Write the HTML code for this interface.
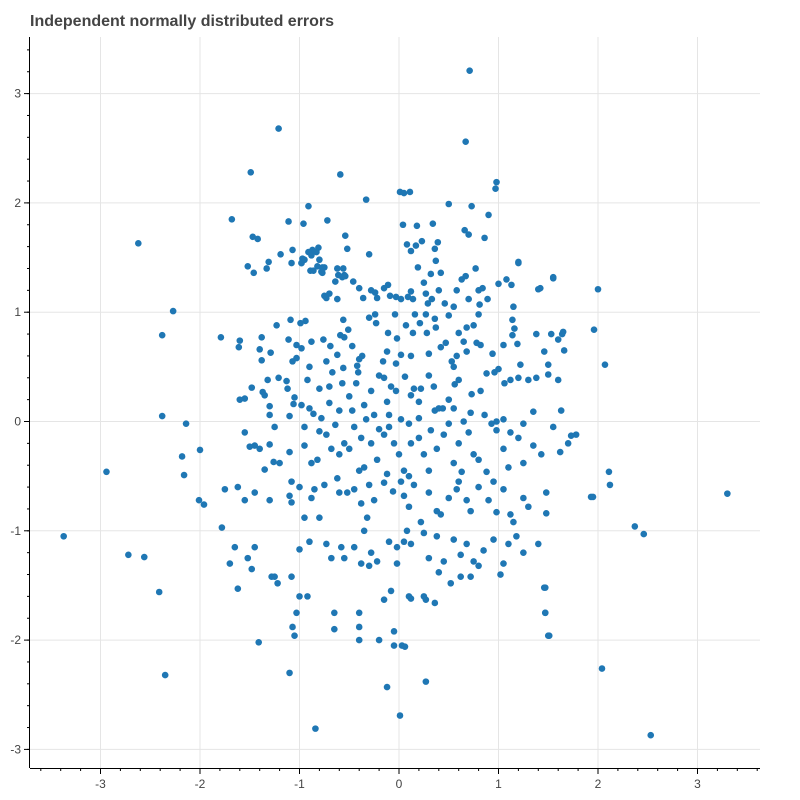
<!DOCTYPE html>
<html><head><meta charset="utf-8">
<style>
html,body{margin:0;padding:0;background:#fff;}
svg{display:block;font-family:"Liberation Sans",sans-serif;}
</style></head>
<body>
<svg id="chart" width="800" height="800" viewBox="0 0 800 800">
<text x="30" y="26" font-size="16" font-weight="bold" fill="#444">Independent normally distributed errors</text>
<g id="grid"></g>
<g id="points"></g>
<g id="axes"></g>
</svg>
<script>
const xTicks = [-3,-2,-1,0,1,2,3];
const yTicks = [-3,-2,-1,0,1,2,3];
const xVals = [
0.71,-1.21,0.67,-1.49,-0.59,0.98,0.97,0.01,0.11,0.05,-0.33,0.5,-0.91,0.73,-1.68,-1.11,-0.72,-0.96,0.9,-2.62,-1.47,-1.42,-0.54,-0.52,0.04,0.18,0.34,0.66,0.7,0.86,0.17,0.39,
-1.19,-1.31,-1.52,-1.46,-1.33,-1.07,-0.97,-0.87,-0.81,-0.91,-0.82,-0.75,-0.98,-0.89,-0.77,-0.62,-0.55,-0.57,
-2.27,-2.38,-1.38,-1.11,-0.99,-0.98,-1.03,1.2,1.55,1.4,2.0,1.96,1.64,1.66,2.07,1.5,
-2.94,-3.37,-2.38,-2.14,-2.18,-2.16,-2.0,-2.01,-1.96,-1.78,-2.72,-2.56,-2.41,-2.35,3.3,2.37,2.46,2.11,2.12,1.93,2.04,2.53,1.51,1.46,1.47,0.27,-0.12,0.01,-0.84,-1.1,-1.41,
-1.08,-0.98,-0.88,-0.83,-0.77,-0.86,-0.78,-0.95,-0.61,-0.54,-0.56,-0.75,-0.7,-0.62,-0.73,-0.4,-0.28,-0.22,-0.11,-0.09,0.02,0.09,0.12,0.14,0.25,0.27,0.29,0.32,0.4,0.46,0.55,0.58,0.63,0.67,0.8,0.84,0.7,0.81,0.77,0.89,1.0,1.08,1.15,1.2,1.42,1.55,1.13,0.33,0.19,0.12,0.37,0.42,-0.15,-0.46,-0.24,-0.36,0.08,-0.3,-0.8,-0.64,-0.03,0.23,0.36,
-1.29,-1.38,-1.23,-1.09,-1.07,-1.03,-0.9,-0.76,-0.69,-0.73,-0.62,-0.59,-0.55,-0.51,-0.56,-0.47,-0.4,-0.42,-0.3,-0.23,-0.24,-0.16,-0.12,-0.11,-0.02,-0.04,0.07,0.12,0.16,0.14,0.21,0.27,0.28,0.3,0.37,0.42,0.47,0.5,0.58,0.6,0.68,0.68,0.78,0.82,0.8,0.75,0.65,0.55,0.94,1.05,1.14,1.19,1.16,1.38,1.65,1.6,1.22,1.46,1.53,1.14,0.36,-0.37,-0.88,-1.79,-1.6,-1.61,-1.4,-0.94,0.02,
-1.55,-1.6,-1.35,-1.32,-1.37,-1.3,-1.13,-1.12,-1.05,-0.98,-0.9,-0.86,-0.8,-0.7,-0.67,-0.57,-0.5,-0.43,-0.41,-0.35,-0.28,-0.2,-0.12,-0.08,-0.03,0.06,0.15,0.2,0.22,0.3,0.36,0.44,0.5,0.56,0.6,0.73,0.82,0.88,0.96,1.0,1.06,1.12,1.2,1.3,1.38,1.5,1.6,1.63,1.05,0.98,0.86,0.72,0.65,0.55,0.4,0.2,0.02,-0.1,-0.25,-0.33,-0.47,-0.6,-0.78,-1.1,-1.3,-1.06,-0.7,-0.15,1.35,0.12,0.35,-0.92,-0.56,-0.03,0.53,-1.48,-1.21,
-1.55,-1.45,-1.4,-1.3,-1.35,-1.2,-1.1,-0.95,-0.88,-0.8,-0.73,-0.68,-0.6,-0.55,-0.5,-0.45,-0.38,-0.35,-0.28,-0.22,-0.15,-0.1,-0.05,0.0,0.05,0.12,0.2,0.25,0.32,0.38,0.45,0.55,0.6,0.7,0.75,0.8,0.88,0.98,1.05,1.1,1.2,1.25,1.35,1.43,1.62,1.7,1.78,1.73,1.55,1.25,1.12,0.93,0.5,0.1,-0.2,-0.64,-0.95,-1.26,-1.5,-0.82,-0.4,0.3,0.63,-0.12,-1.25,
-1.75,-1.62,-1.55,-1.45,-1.3,-1.1,-1.08,-1.0,-0.95,-0.88,-0.8,-0.85,-0.75,-0.6,-0.52,-0.45,-0.38,-0.32,-0.25,-0.15,-0.06,0.05,0.1,0.15,0.22,0.3,0.38,0.42,0.5,0.58,0.68,0.72,0.8,0.9,0.98,1.05,1.12,1.15,1.25,1.3,1.48,1.48,1.95,0.1,-0.62,0.02,-0.3,0.95,-1.08,0.6,
-1.65,-1.7,-1.52,-1.48,-1.25,-1.08,-1.0,-0.9,-0.73,-0.68,-0.58,-0.55,-0.45,-0.38,-0.3,-0.22,-0.1,-0.02,0.05,0.12,0.25,0.3,0.38,0.45,0.55,0.62,0.68,0.75,0.8,0.95,1.05,1.1,1.18,1.25,1.4,0.62,0.52,0.4,-0.35,0.08,-0.02,0.85,-1.45,-0.28,0.72,1.02,
-1.22,-1.28,-0.92,-1.0,-0.65,-0.65,-0.4,-0.4,-0.4,-0.2,-0.05,-0.05,0.03,0.06,0.1,0.12,-0.15,0.27,0.36,1.47,1.47,1.5,-1.03,-1.07,-1.05,-1.62,0.25,-0.08
];
const yVals = [
3.21,2.68,2.56,2.28,2.26,2.19,2.13,2.1,2.1,2.09,2.03,1.99,1.97,1.97,1.85,1.83,1.84,1.81,1.89,1.63,1.69,1.67,1.7,1.58,1.8,1.79,1.81,1.75,1.71,1.68,1.61,1.64,
1.53,1.46,1.42,1.36,1.4,1.57,1.49,1.57,1.59,1.55,1.42,1.41,1.45,1.38,1.36,1.4,1.34,1.32,
1.01,0.79,0.77,0.75,0.9,0.67,0.7,1.45,1.31,1.21,1.21,0.84,0.8,0.65,0.52,0.52,
-0.46,-1.05,0.05,-0.02,-0.32,-0.49,-0.26,-0.72,-0.76,-0.97,-1.22,-1.24,-1.56,-2.32,-0.66,-0.96,-1.03,-0.46,-0.58,-0.69,-2.26,-2.87,-1.96,-1.52,-1.75,-2.38,-2.43,-2.69,-2.81,-2.3,-2.02,
1.45,1.45,1.52,1.55,1.41,1.38,1.37,1.48,1.34,1.33,1.4,1.15,1.17,1.12,1.13,1.22,1.2,1.13,1.25,1.15,1.12,1.14,1.19,1.12,1.27,1.17,1.08,1.35,1.2,1.08,1.05,1.2,1.3,1.33,1.2,1.22,1.12,1.07,1.4,1.12,1.26,1.3,1.05,1.46,1.22,1.32,1.25,1.12,1.41,1.56,1.47,1.36,1.22,1.28,1.18,1.13,1.62,1.53,1.48,1.28,1.14,1.65,1.58,
0.63,0.56,0.88,0.93,0.55,0.58,0.5,0.75,0.69,0.55,0.61,0.79,0.77,0.84,0.93,0.69,0.57,0.51,0.95,0.9,0.98,0.55,0.64,0.81,0.76,0.98,0.88,0.6,0.98,0.81,0.9,0.98,0.81,0.62,0.86,0.68,0.72,0.97,0.6,0.81,0.86,0.64,0.72,0.7,0.98,0.88,0.73,0.5,0.62,0.7,0.79,0.71,0.85,0.8,0.82,0.75,0.52,0.64,0.8,0.93,0.94,0.6,0.73,0.77,0.74,0.68,0.66,0.92,0.61,
0.21,0.2,0.24,0.38,0.27,0.14,0.37,0.3,0.22,0.15,0.12,0.07,0.3,0.32,0.45,0.35,0.23,0.35,0.45,0.15,0.28,0.42,0.18,0.32,0.28,0.41,0.3,0.18,0.3,0.42,0.1,0.12,0.2,0.34,0.38,0.25,0.28,0.44,0.45,0.48,0.35,0.38,0.4,0.38,0.4,0.43,0.38,0.1,0.02,0.0,0.06,0.08,0.0,0.12,0.12,0.03,0.02,0.06,0.06,0.02,0.1,0.1,0.03,0.05,0.06,0.16,0.17,0.4,0.09,0.24,0.32,0.38,0.49,0.53,0.55,0.31,0.4,
-0.1,-0.22,-0.25,-0.21,-0.44,-0.38,-0.28,-0.22,-0.38,-0.09,-0.12,-0.25,-0.3,-0.2,-0.25,-0.05,-0.15,-0.42,-0.2,-0.35,-0.12,-0.05,-0.2,-0.3,-0.45,-0.2,-0.15,-0.3,-0.08,-0.25,-0.12,-0.38,-0.2,-0.1,-0.3,-0.35,-0.46,-0.08,-0.25,-0.42,-0.15,-0.38,-0.22,-0.3,-0.28,-0.2,-0.12,-0.13,-0.05,-0.02,-0.1,-0.02,-0.02,-0.02,-0.07,-0.03,-0.05,-0.37,-0.23,-0.35,-0.45,-0.45,-0.46,-0.48,-0.05,
-0.62,-0.6,-0.72,-0.65,-0.72,-0.68,-0.74,-0.6,-0.88,-0.7,-0.88,-0.62,-0.58,-0.65,-0.65,-0.62,-0.75,-0.88,-0.72,-0.56,-0.64,-0.68,-0.78,-0.58,-0.92,-0.65,-0.82,-0.85,-0.7,-0.62,-0.72,-0.82,-0.6,-0.72,-0.83,-0.62,-0.85,-0.92,-0.7,-0.78,-0.65,-0.84,-0.69,-0.5,-0.52,-0.55,-0.58,-0.55,-0.55,-0.55,
-1.15,-1.3,-1.25,-1.35,-1.42,-1.42,-1.17,-1.1,-1.12,-1.25,-1.15,-1.25,-1.15,-1.3,-1.32,-1.28,-1.1,-1.15,-1.1,-1.12,-1.02,-1.25,-1.05,-1.28,-1.08,-1.22,-1.12,-1.28,-1.32,-1.08,-1.3,-1.12,-1.05,-1.2,-1.12,-1.42,-1.48,-1.38,-1.0,-1.0,-1.3,-1.18,-1.15,-1.2,-1.42,-1.4,
-1.48,-1.42,-1.6,-1.6,-1.75,-1.9,-1.75,-1.88,-2.0,-2.0,-1.92,-2.05,-2.05,-2.06,-1.6,-1.62,-1.63,-1.63,-1.66,-1.52,-1.75,-1.96,-1.75,-1.88,-1.96,-1.53,-1.6,-1.55
];

const L=30,R=760,T=37,B=768;
const xScale = v => 399 + v*99.5;
const yScale = v => 421.5 - v*109.3;
const NS='http://www.w3.org/2000/svg';
function mk(tag, attrs){const e=document.createElementNS(NS,tag);for(const k in attrs)e.setAttribute(k,attrs[k]);return e;}
const grid=document.getElementById('grid'), pts=document.getElementById('points'), axes=document.getElementById('axes');

xTicks.forEach(t=>{
  const x=xScale(t);
  const g=mk('line',{x1:x,x2:x,y1:T,y2:B,stroke:'#e5e5e5','stroke-width':1});
  
  
  grid.appendChild(g);
  const tk=mk('line',{x1:x,x2:x,y1:B,y2:B+6,stroke:'#000','stroke-width':1});
  
  
  axes.appendChild(tk);
  const lb=mk('text',{x:x,y:B+20,'font-size':12,fill:'#444','text-anchor':'middle'});
  lb.textContent=t;
  
  
  axes.appendChild(lb);
});
yTicks.forEach(t=>{
  const y=yScale(t);
  const g=mk('line',{x1:L,x2:R,y1:y,y2:y,stroke:'#e5e5e5','stroke-width':1});
  
  
  grid.appendChild(g);
  const tk=mk('line',{x1:L-6,x2:L,y1:y,y2:y,stroke:'#000','stroke-width':1});
  
  
  axes.appendChild(tk);
  const lb=mk('text',{x:L-9,y:y+4,'font-size':12,fill:'#444','text-anchor':'end'});
  lb.textContent=t;
  
  
  axes.appendChild(lb);
});
for(let v=-3.6;v<=3.61;v+=0.2){
  const x=xScale(v); if(x>=L&&x<=R){
    const m=mk('line',{x1:x,x2:x,y1:B,y2:B+3,stroke:'#000','stroke-width':1});
    
    
    axes.appendChild(m);}
  const y=yScale(v); if(y>=T&&y<=B){
    const m2=mk('line',{x1:L-3,x2:L,y1:y,y2:y,stroke:'#000','stroke-width':1});
    
    
    axes.appendChild(m2);}
}
const xa=mk('line',{x1:L,x2:R,y1:B+0.5,y2:B+0.5,stroke:'#000','stroke-width':1});


axes.appendChild(xa);
const ya=mk('line',{x1:L-0.5,x2:L-0.5,y1:T,y2:B,stroke:'#000','stroke-width':1});


axes.appendChild(ya);

const n=Math.min(xVals.length,yVals.length);
for(let i=0;i<n;i++){
  const c=mk('circle',{cx:xScale(xVals[i]),cy:yScale(yVals[i]),r:3.3,fill:'#1f77b4'});
  
  
  pts.appendChild(c);
}
</script>
</body></html>
